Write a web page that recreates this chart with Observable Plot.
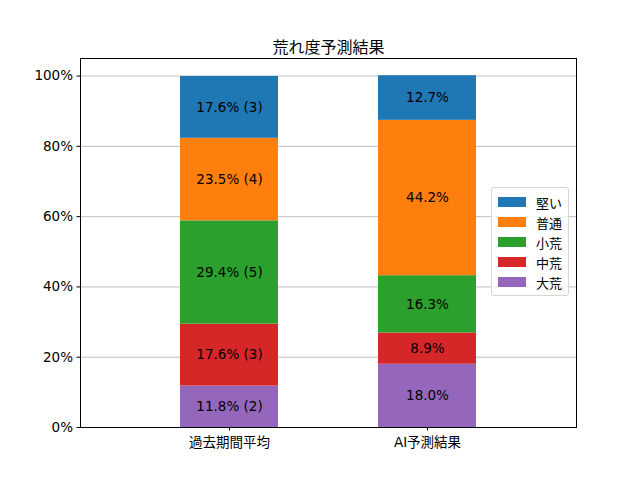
<!DOCTYPE html>
<html>
<head>
<meta charset="utf-8">
<script src="https://cdn.jsdelivr.net/npm/d3@7"></script>
<script src="https://cdn.jsdelivr.net/npm/@observablehq/plot@0.6"></script>
<style>
  body { margin: 0; background: #fff; }
  #wrap { position: relative; width: 640px; height: 480px; font-family: "DejaVu Sans", "Noto Sans CJK JP", sans-serif; }
  #legend { position: absolute; left: 491px; top: 187px; width: 76px; padding: 4px 0 3px 0;
    background: rgba(255,255,255,0.8); border: 1px solid #d6d6d6; border-radius: 3px; font-size: 13px; color: #000; }
  .row { display: flex; align-items: center; height: 20px; }
  .sw { width: 28px; height: 10px; margin-left: 6px; margin-right: 10px; }
</style>
</head>
<body>
<div id="wrap"></div>
<script>
const categories = ["過去期間平均", "AI予測結果"];
const seriesNames = ["大荒", "中荒", "小荒", "普通", "堅い"];
const seriesColors = ["#9467bd", "#d62728", "#2ca02c", "#ff7f0e", "#1f77b4"];
const pastValues = [11.8, 17.6, 29.4, 23.5, 17.6];
const pastCounts = [2, 3, 5, 4, 3];
const aiValues = [18.0, 8.9, 16.3, 44.2, 12.7];
const yTicks = [0, 20, 40, 60, 80, 100];
const legendOrder = ["堅い", "普通", "小荒", "中荒", "大荒"];

const data = [];
seriesNames.forEach((s, i) => {
  data.push({cat: categories[0], series: s, value: pastValues[i], label: `${pastValues[i].toFixed(1)}% (${pastCounts[i]})`});
});
seriesNames.forEach((s, i) => {
  data.push({cat: categories[1], series: s, value: aiValues[i], label: `${aiValues[i].toFixed(1)}%`});
});

const chart = Plot.plot({
  width: 640,
  height: 480,
  marginLeft: 80,
  marginRight: 64,
  marginTop: 58,
  marginBottom: 53,
  style: {fontFamily: '"DejaVu Sans", "Noto Sans CJK JP", sans-serif', fontSize: "13px", color: "#000", background: "#fff"},
  x: {domain: categories, paddingInner: 0.5075, paddingOuter: 0.5, label: null},
  y: {domain: [0, 105], label: null},
  color: {domain: seriesNames, range: seriesColors},
  marks: [
    Plot.gridY(yTicks, {stroke: "#b0b0b0", strokeOpacity: 1, strokeWidth: 0.8}),
    Plot.barY(data, Plot.stackY({x: "cat", y: "value", fill: "series", z: "series", order: seriesNames})),
    Plot.text(data, Plot.stackY({x: "cat", y: "value", z: "series", order: seriesNames, text: "label", fill: "#000", fontSize: 13.5})),
    Plot.axisY(yTicks, {tickFormat: d => d + "%", tickSize: 3.5, tickPadding: 4, stroke: "#000", fontSize: 13.5, label: null}),
    Plot.axisX({tickSize: 3.5, tickPadding: 6, stroke: "#000", fontSize: 13.5, label: null}),
    Plot.frame({stroke: "#000", strokeWidth: 1}),
    Plot.text(["荒れ度予測結果"], {frameAnchor: "top", dy: -17, fontSize: 16, fill: "#000"})
  ]
});

const wrap = document.getElementById("wrap");
wrap.appendChild(chart);

const legend = document.createElement("div");
legend.id = "legend";
legendOrder.forEach(name => {
  const row = document.createElement("div");
  row.className = "row";
  const sw = document.createElement("div");
  sw.className = "sw";
  sw.style.background = seriesColors[seriesNames.indexOf(name)];
  const t = document.createElement("span");
  t.textContent = name;
  row.appendChild(sw);
  row.appendChild(t);
  legend.appendChild(row);
});
wrap.appendChild(legend);
</script>
</body>
</html>
